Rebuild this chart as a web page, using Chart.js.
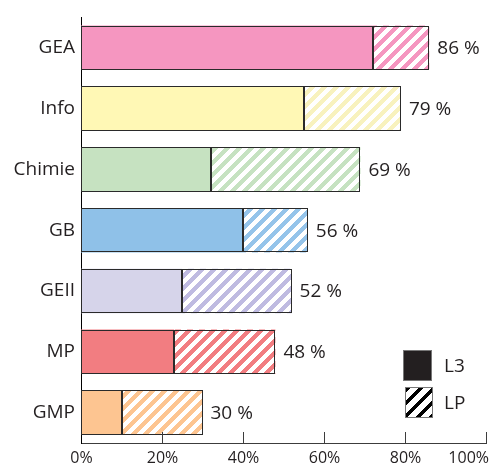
<!DOCTYPE html>
<html>
<head>
<meta charset="utf-8">
<script src="https://cdn.jsdelivr.net/npm/chart.js@4.4.0/dist/chart.umd.min.js"></script>
<style>
  html, body { margin: 0; padding: 0; overflow: hidden; background: #fff; }
</style>
</head>
<body>
<canvas id="grafica" width="490" height="470"></canvas>
<script>
// Datos
const categorias = ['GEA', 'Info', 'Chimie', 'GB', 'GEII', 'MP', 'GMP'];
const valoresL3 = [72, 55, 32, 40, 25, 23, 10];
const valoresLP = [14, 24, 37, 16, 27, 25, 20];
const totales = [86, 79, 69, 56, 52, 48, 30];
const etiquetasX = ['0%', '20%', '40%', '60%', '80%', '100%'];

const coloresL3 = ['#F596C0', '#FFF8B5', '#C6E2C1', '#8FC1E8', '#D6D4EA', '#F27D81', '#FDC591'];
const coloresLP = ['#F596C0', '#F8F2BE', '#C6E2C1', '#95C4EA', '#BFBBE1', '#F27D81', '#FDC591'];

const FUENTE = '"Open Sans", "DejaVu Sans", sans-serif';
const TEXTO = '#231F20';
const BORDE = '#2a2a2a';

/**
 * Crea una trama de rayas diagonales (/) sobre fondo blanco.
 */
function crearTrama(color, periodo, grosor) {
  const lienzo = document.createElement('canvas');
  lienzo.width = periodo;
  lienzo.height = periodo;
  const c = lienzo.getContext('2d');
  c.fillStyle = '#fff';
  c.fillRect(0, 0, periodo, periodo);
  c.fillStyle = color;
  for (let y = 0; y < periodo; y++) {
    for (let x = 0; x < periodo; x++) {
      if ((x + y) % periodo < grosor) c.fillRect(x, y, 1, 1);
    }
  }
  return c.createPattern(lienzo, 'repeat');
}

const tramasLP = coloresLP.map(color => crearTrama(color, 12, 6));
const tramaLeyenda = crearTrama('#000', 13, 5);

// Contornos nítidos de las barras + totales al final de cada barra
const contornosYTotales = {
  id: 'contornosYTotales',
  afterDatasetsDraw(chart) {
    const { ctx } = chart;
    ctx.save();
    ctx.strokeStyle = BORDE;
    ctx.lineWidth = 1;
    [0, 1].forEach(d => {
      chart.getDatasetMeta(d).data.forEach(barra => {
        const { x, y, base, height } = barra.getProps(['x', 'y', 'base', 'height'], true);
        const izq = Math.round(Math.min(base, x));
        const der = Math.round(Math.max(base, x));
        const arriba = Math.round(y - height / 2);
        const abajo = Math.round(y + height / 2);
        ctx.strokeRect(izq + 0.5, arriba + 0.5, der - izq - 1, abajo - arriba - 1);
      });
    });

    const meta = chart.getDatasetMeta(1);
    ctx.font = '19px ' + FUENTE;
    ctx.fillStyle = TEXTO;
    ctx.textBaseline = 'middle';
    meta.data.forEach((barra, i) => {
      ctx.fillText(totales[i] + ' %', barra.x + 8, barra.y + 1);
    });
    ctx.restore();
  }
};

// Marcas y etiquetas del eje X (marcas hacia dentro, última etiqueta ajustada al borde)
const ejeInferior = {
  id: 'ejeInferior',
  afterDraw(chart) {
    const { ctx, chartArea } = chart;
    const escala = chart.scales.x;
    ctx.save();
    ctx.strokeStyle = '#3c3c3c';
    ctx.lineWidth = 1;
    ctx.font = '16px ' + FUENTE;
    ctx.fillStyle = TEXTO;
    ctx.textBaseline = 'top';
    escala.ticks.forEach((tick, i) => {
      const px = Math.round(escala.getPixelForTick(i)) + 0.5;
      if (i > 0) {
        ctx.beginPath();
        ctx.moveTo(px, chartArea.bottom);
        ctx.lineTo(px, chartArea.bottom - 11);
        ctx.stroke();
      }
      const texto = etiquetasX[i];
      const ancho = ctx.measureText(texto).width;
      let tx = px - ancho / 2;
      if (tx + ancho > 489) tx = 489 - ancho;
      ctx.fillText(texto, tx, chartArea.bottom + 7);
    });
    ctx.restore();
  }
};

// Leyenda dentro del área del gráfico
const leyenda = {
  id: 'leyenda',
  afterDraw(chart) {
    const { ctx, chartArea } = chart;
    const x0 = Math.round(chartArea.right - 83);
    const y0 = Math.round(chartArea.bottom - 93);
    ctx.save();
    ctx.fillStyle = TEXTO;
    ctx.fillRect(x0, y0, 29, 31);
    ctx.strokeStyle = '#777';
    ctx.lineWidth = 1;
    ctx.strokeRect(x0 + 0.5, y0 + 0.5, 28, 30);

    ctx.fillStyle = tramaLeyenda;
    ctx.fillRect(x0 + 2, y0 + 37, 28, 31);
    ctx.strokeRect(x0 + 2.5, y0 + 37.5, 27, 30);

    ctx.font = '19px ' + FUENTE;
    ctx.fillStyle = TEXTO;
    ctx.textBaseline = 'middle';
    ctx.fillText('L3', x0 + 41, y0 + 17);
    ctx.fillText('LP', x0 + 41, y0 + 54);
    ctx.restore();
  }
};

new Chart(document.getElementById('grafica').getContext('2d'), {
  type: 'bar',
  data: {
    labels: categorias,
    datasets: [
      {
        label: 'L3',
        data: valoresL3,
        backgroundColor: coloresL3,
        borderWidth: 0,
        inflateAmount: 0
      },
      {
        label: 'LP',
        data: valoresLP,
        backgroundColor: tramasLP,
        borderWidth: 0,
        inflateAmount: 0
      }
    ]
  },
  options: {
    indexAxis: 'y',
    responsive: false,
    animation: false,
    devicePixelRatio: 1,
    categoryPercentage: 1,
    barPercentage: 0.73,
    layout: { padding: { top: 11, right: 4, left: 0, bottom: 0 } },
    plugins: {
      legend: { display: false },
      tooltip: { enabled: false }
    },
    scales: {
      x: {
        stacked: true,
        min: 0,
        max: 100,
        ticks: { stepSize: 20, display: false },
        grid: { display: false, drawTicks: false },
        border: { display: true, color: '#3c3c3c', width: 1 },
        afterFit: escala => { escala.height = 27; }
      },
      y: {
        stacked: true,
        grid: { display: false, drawTicks: false },
        border: { display: true, color: '#000', width: 1 },
        ticks: {
          color: TEXTO,
          padding: 6,
          font: { family: FUENTE, size: 19 }
        },
        afterFit: escala => { escala.width = 81; }
      }
    }
  },
  plugins: [contornosYTotales, ejeInferior, leyenda]
});
</script>
</body>
</html>
